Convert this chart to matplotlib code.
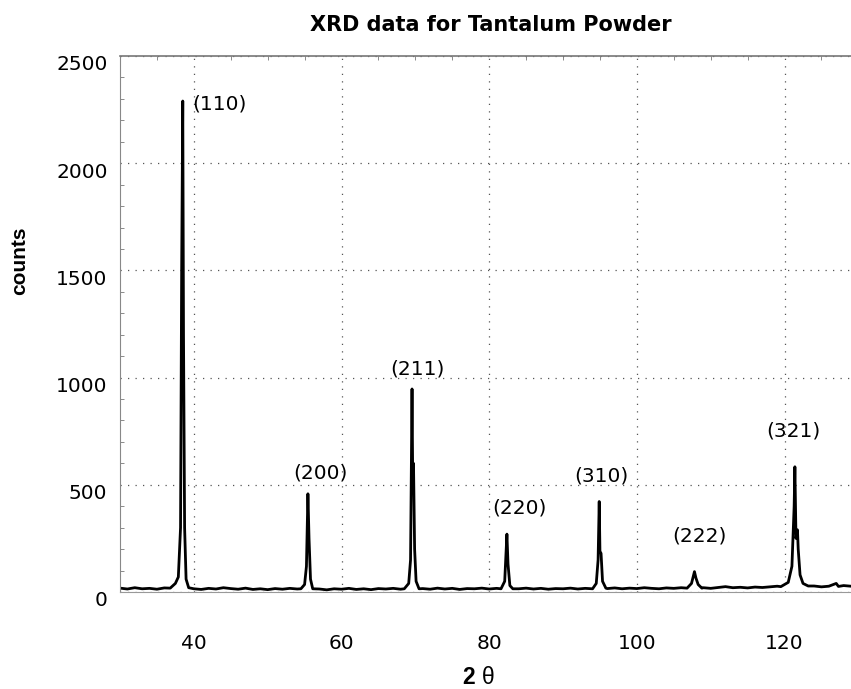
### imports
import numpy as np
import matplotlib
matplotlib.use('Agg')
from matplotlib import pyplot as plt
from matplotlib.ticker import MultipleLocator
import matplotlib.transforms as mtransforms

plt.rcParams['font.family'] = ['DejaVu Sans']
plt.rcParams['mathtext.fontset'] = 'custom'
plt.rcParams['mathtext.bf'] = 'Liberation Sans:bold'
plt.rcParams['mathtext.rm'] = 'Liberation Sans'

### data (2 theta [deg], counts)
two_theta = [30, 31, 32, 33, 34, 35, 36,
             36.8, 37.5, 37.9, 38.2, 38.35, 38.5, 38.6, 38.75, 38.95, 39.3,
             40, 41, 42, 43, 44, 45, 46, 47, 48, 49, 50, 51, 52, 53, 54,
             54.5, 55.0, 55.25, 55.45, 55.6, 55.8, 56.1,
             57, 58, 59, 60, 61, 62, 63, 64, 65, 66, 67, 68,
             68.5, 69.1, 69.35, 69.55, 69.65, 69.75, 69.9, 70.1, 70.5,
             71, 72, 73, 74, 75, 76, 77, 78, 79, 80, 81,
             81.6, 82.1, 82.4, 82.55, 82.8, 83.2,
             84, 85, 86, 87, 88, 89, 90, 91, 92, 93,
             94.0, 94.5, 94.75, 94.9, 95.0, 95.15, 95.35, 95.8,
             96, 97, 98, 99, 100, 101, 102, 103, 104, 105, 106,
             106.8, 107.4, 107.8, 108.0, 108.3, 108.8,
             109, 110, 111, 112, 113, 114, 115, 116, 117, 118, 119,
             119.5, 120.5, 121.0, 121.3, 121.4, 121.55, 121.75, 121.85, 122.1, 122.5, 123.2,
             124, 125, 126, 127, 127.3, 128, 129, 130]
counts = [18, 14, 20, 15, 17, 13, 19,
          18, 40, 70, 300, 1500, 2290, 1200, 300, 60, 20,
          15, 12, 17, 14, 20, 16, 13, 18, 12, 15, 11, 16, 13, 17, 14,
          15, 35, 120, 458, 250, 60, 15,
          14, 10, 15, 13, 17, 12, 15, 11, 16, 14, 17, 13,
          15, 40, 150, 947, 500, 600, 200, 50, 15,
          16, 13, 18, 14, 17, 12, 16, 15, 18, 14, 17,
          15, 50, 270, 130, 30, 15,
          15, 18, 14, 17, 13, 16, 15, 18, 14, 17,
          15, 40, 150, 422, 190, 180, 50, 18,
          16, 19, 15, 18, 16, 20, 17, 15, 19, 17, 20,
          18, 40, 95, 65, 35, 18,
          20, 17, 21, 25, 20, 22, 19, 23, 21, 24, 27,
          25, 45, 120, 400, 584, 250, 290, 200, 80, 40, 28,
          28, 24, 27, 40, 26, 30, 27, 32]

peak_labels = ['(110)', '(200)', '(211)', '(220)', '(310)', '(222)', '(321)']
label_x = [43.5, 57.1, 70.3, 84.1, 95.2, 108.5, 121.2]
label_y = [2275, 555, 1038, 392, 541, 261, 751]

### plot
fig = plt.figure(figsize=(8.51, 6.89), dpi=100)
ax = fig.add_axes([120/851, 1 - 592/689, 731/851, 536/689])

ax.plot(two_theta, counts, color='black', lw=2.0, solid_joinstyle='round')

for lab, xx, yy in zip(peak_labels, label_x, label_y):
    ax.text(xx, yy, lab, ha='center', va='center', fontsize=14.5)

ax.set_xlim(30, 129)
ax.set_ylim(0, 2500)
ax.xaxis.set_major_locator(MultipleLocator(20))
ax.xaxis.set_minor_locator(MultipleLocator(5))
ax.yaxis.set_major_locator(MultipleLocator(500))
ax.yaxis.set_minor_locator(MultipleLocator(100))
ax.grid(True, which='major', color='#555555', linestyle=(0, (1, 5)), lw=0.9)

ax.tick_params(which='major', direction='in', length=0, labelsize=14.5)
ax.tick_params(axis='x', which='major', pad=30)
ax.tick_params(axis='y', which='major', pad=9)
ax.tick_params(which='minor', direction='in', length=3, width=0.6,
               color='#777777', top=True, bottom=False, left=True, right=False)

offset = mtransforms.ScaledTranslation(0, -7/100, fig.dpi_scale_trans)
for lbl in ax.get_yticklabels():
    lbl.set_transform(lbl.get_transform() + offset)

ax.spines['right'].set_visible(False)
ax.spines['top'].set_color('#777777')
ax.spines['top'].set_linewidth(1.2)
ax.spines['left'].set_color('#888888')
ax.spines['left'].set_linewidth(0.8)
ax.spines['bottom'].set_color('#999999')
ax.spines['bottom'].set_linestyle((0, (1, 1)))
ax.spines['bottom'].set_linewidth(0.8)

ax.set_xlabel(r'$\mathbf{2}$ θ', fontsize=16.5, va='center', family='Liberation Sans')
ax.xaxis.set_label_coords(0.49, -0.160)
ax.set_ylabel('counts', fontsize=15, fontweight='bold', va='center',
              family='Liberation Sans')
ax.yaxis.set_label_coords(-0.137, 0.618)

fig.text(491/851, 1 - 25/689, 'XRD data for Tantalum Powder',
         ha='center', va='center', fontsize=15, fontweight='bold')

plt.savefig('out.png', dpi=100)
